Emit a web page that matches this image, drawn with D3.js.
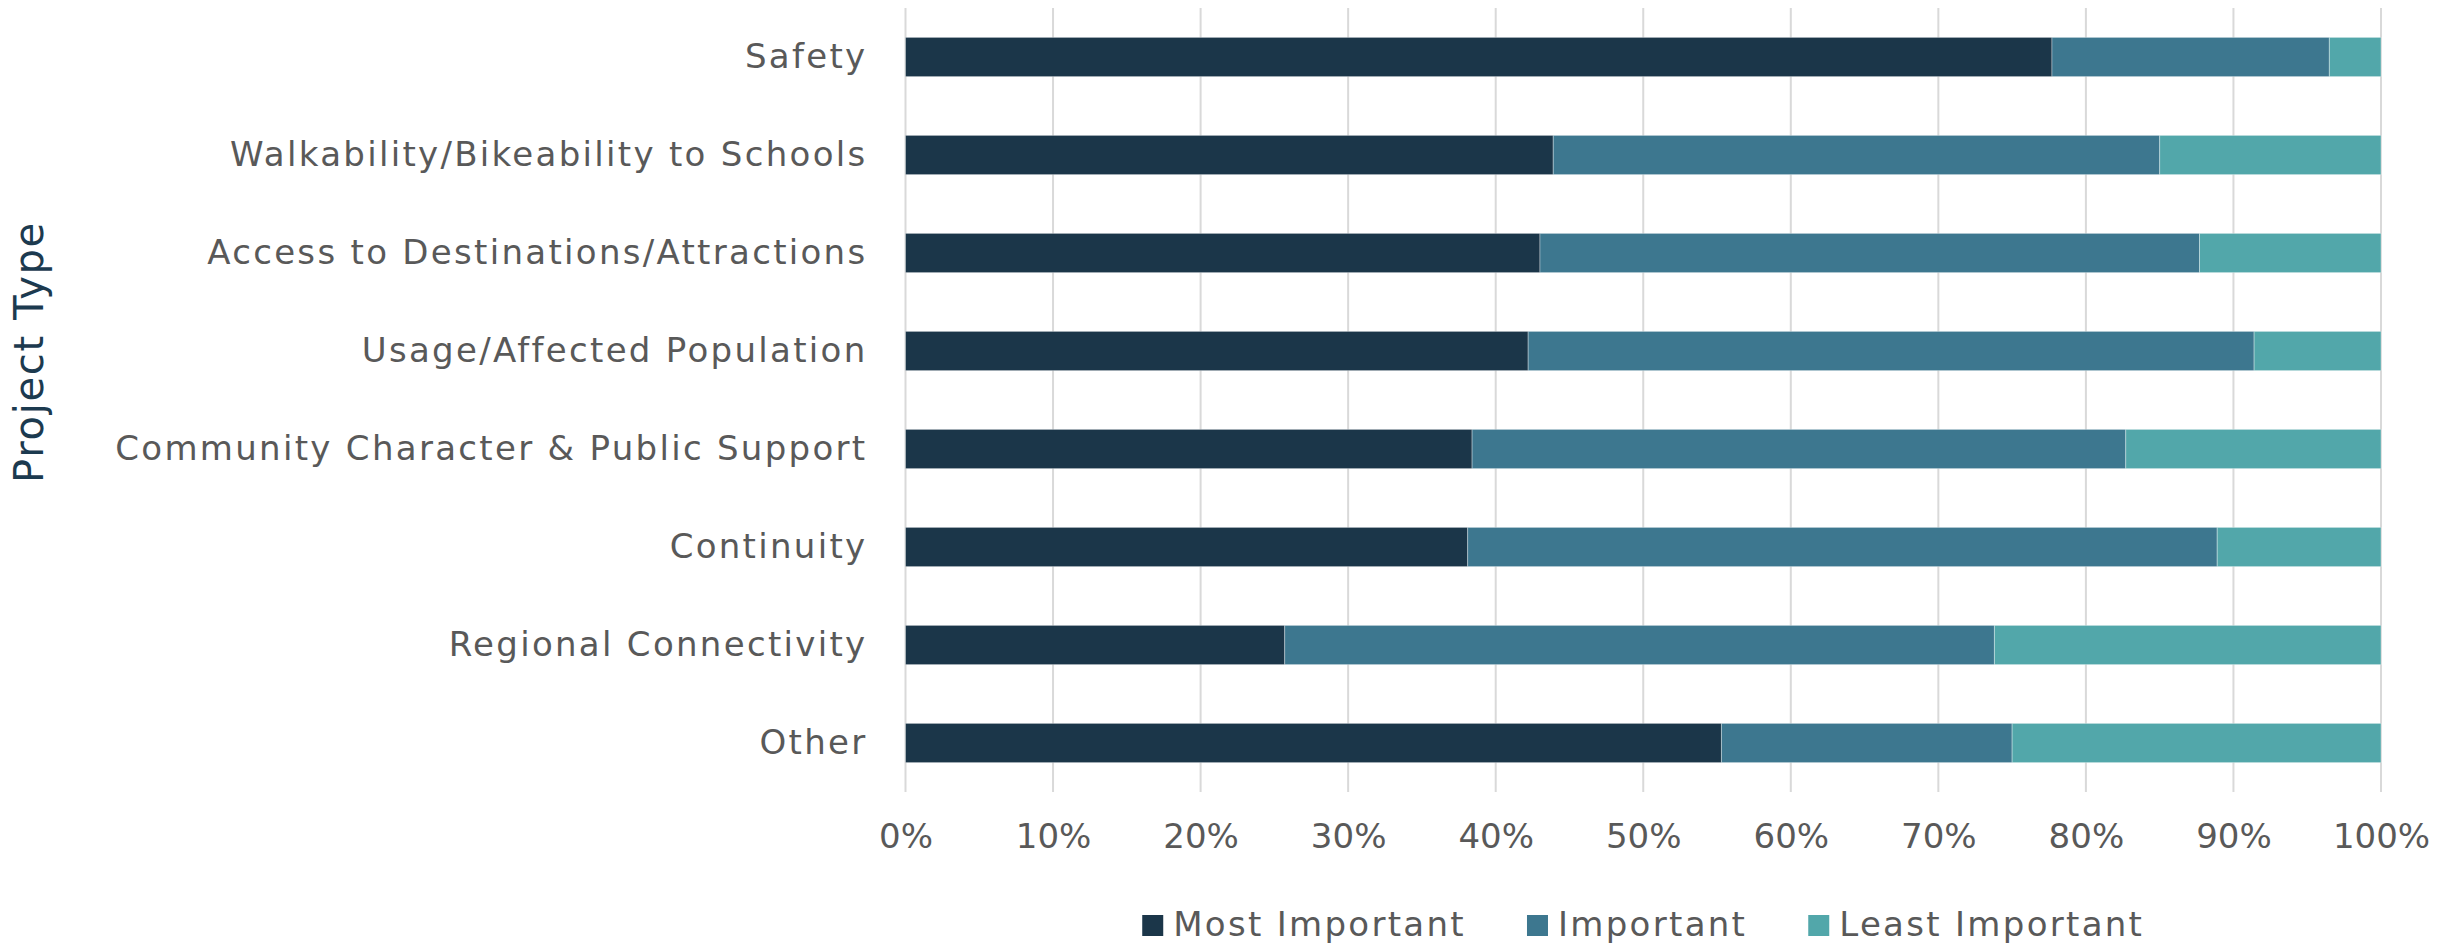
<!DOCTYPE html>
<html>
<head>
    <meta charset="utf-8">
    <title>Project Type</title>
    <script src="https://d3js.org/d3.v7.min.js"></script>
    <style>
        body { margin: 0; background: #fff; }
        text { font-family: "DejaVu Sans", sans-serif; }
    </style>
</head>
<body>
<div id="chart"></div>
<script type="text/javascript">
    // dados (percentuais)
    let categories = ["Safety", "Walkability/Bikeability to Schools", "Access to Destinations/Attractions",
        "Usage/Affected Population", "Community Character & Public Support", "Continuity",
        "Regional Connectivity", "Other"];
    let series = ["Most Important", "Important", "Least Important"];
    let mostImportant  = [77.7, 43.9, 43.0, 42.2, 38.4, 38.1, 25.7, 55.3];
    let important      = [18.8, 41.1, 44.7, 49.2, 44.3, 50.8, 48.1, 19.7];
    let leastImportant = [3.5, 15.0, 12.3, 8.6, 17.3, 11.1, 26.2, 25.0];
    let xTicks = [0, 10, 20, 30, 40, 50, 60, 70, 80, 90, 100];
    let colors = ["#1b3649", "#3d778f", "#52a7aa"];

    let W = 2458, H = 945;
    let margin = {top: 8, right: 77, bottom: 153, left: 905.5};
    let w = W - margin.left - margin.right;
    let h = H - margin.top - margin.bottom;

    let svg = d3.select("#chart")
            .append("svg")
                .attr("width", W)
                .attr("height", H);
    let g = svg.append("g")
            .attr("transform", "translate(" + margin.left + "," + margin.top + ")");

    let table = categories.map(function(c, i){
        return {cat: c, "Most Important": mostImportant[i], "Important": important[i], "Least Important": leastImportant[i]};
    });
    let stacked = d3.stack().keys(series)(table);

    let xScale = d3.scaleLinear().domain([0, 100]).range([0, w]);
    let yScale = d3.scaleBand().domain(categories).range([0, h])
            .paddingInner(0.6).paddingOuter(0.3);

    // linhas de grade
    g.append("g")
        .selectAll("line")
        .data(xTicks)
        .enter()
        .append("line")
        .attr("x1", d => xScale(d))
        .attr("x2", d => xScale(d))
        .attr("y1", 0)
        .attr("y2", h)
        .attr("stroke", "#d9d9d9")
        .attr("stroke-width", 2);

    // barras empilhadas
    g.append("g")
        .selectAll("g")
        .data(stacked)
        .enter()
        .append("g")
            .attr("fill", (d, i) => colors[i])
        .selectAll("rect")
        .data(d => d)
        .enter()
        .append("rect")
        .attr("x", d => xScale(d[0]))
        .attr("y", d => yScale(d.data.cat))
        .attr("width", d => xScale(d[1]) - xScale(d[0]))
        .attr("height", yScale.bandwidth())
        .attr("stroke", "#ffffff")
        .attr("stroke-opacity", 0.35)
        .attr("stroke-width", 1);

    // eixo x
    let xAxis = d3.axisBottom(xScale)
            .tickValues(xTicks)
            .tickFormat(d => d + "%")
            .tickSize(0)
            .tickPadding(32);
    let gx = g.append("g")
        .attr("transform", "translate(0," + h + ")")
        .call(xAxis);
    gx.select(".domain").remove();
    gx.selectAll("text")
        .attr("font-family", "DejaVu Sans, sans-serif")
        .attr("font-size", "34px")
        .attr("fill", "#595959")
        .attr("dy", "0.71em");

    // eixo y
    let yAxis = d3.axisLeft(yScale).tickSize(0).tickPadding(38);
    let gy = g.append("g").call(yAxis);
    gy.select(".domain").remove();
    gy.selectAll("text")
        .attr("font-family", "DejaVu Sans, sans-serif")
        .attr("font-size", "34px")
        .attr("letter-spacing", "2.3px")
        .attr("fill", "#595959");

    // título do eixo y
    svg.append("text")
        .attr("transform", "rotate(-90)")
        .attr("x", -352)
        .attr("y", 43)
        .style("text-anchor", "middle")
        .attr("font-size", "40px")
        .attr("letter-spacing", "1.7px")
        .attr("fill", "#1c3a4f")
        .text("Project Type");

    // legenda centrada na área do gráfico
    let legend = svg.append("g");
    let items = legend.selectAll("g")
        .data(series)
        .enter()
        .append("g");
    items.append("rect")
        .attr("width", 21)
        .attr("height", 21)
        .attr("y", -21)
        .attr("fill", (d, i) => colors[i]);
    items.append("text")
        .attr("x", 31)
        .attr("font-size", "34px")
        .attr("letter-spacing", "2.3px")
        .attr("fill", "#595959")
        .text(d => d);
    let pos = 0, offsets = [];
    items.each(function(){
        offsets.push(pos);
        pos += 31 + d3.select(this).select("text").node().getComputedTextLength() + 61;
    });
    let total = pos - 61;
    items.attr("transform", (d, i) => "translate(" + offsets[i] + ",0)");
    legend.attr("transform", "translate(" + (margin.left + w / 2 - total / 2) + ",936)");
</script>
</body>
</html>
